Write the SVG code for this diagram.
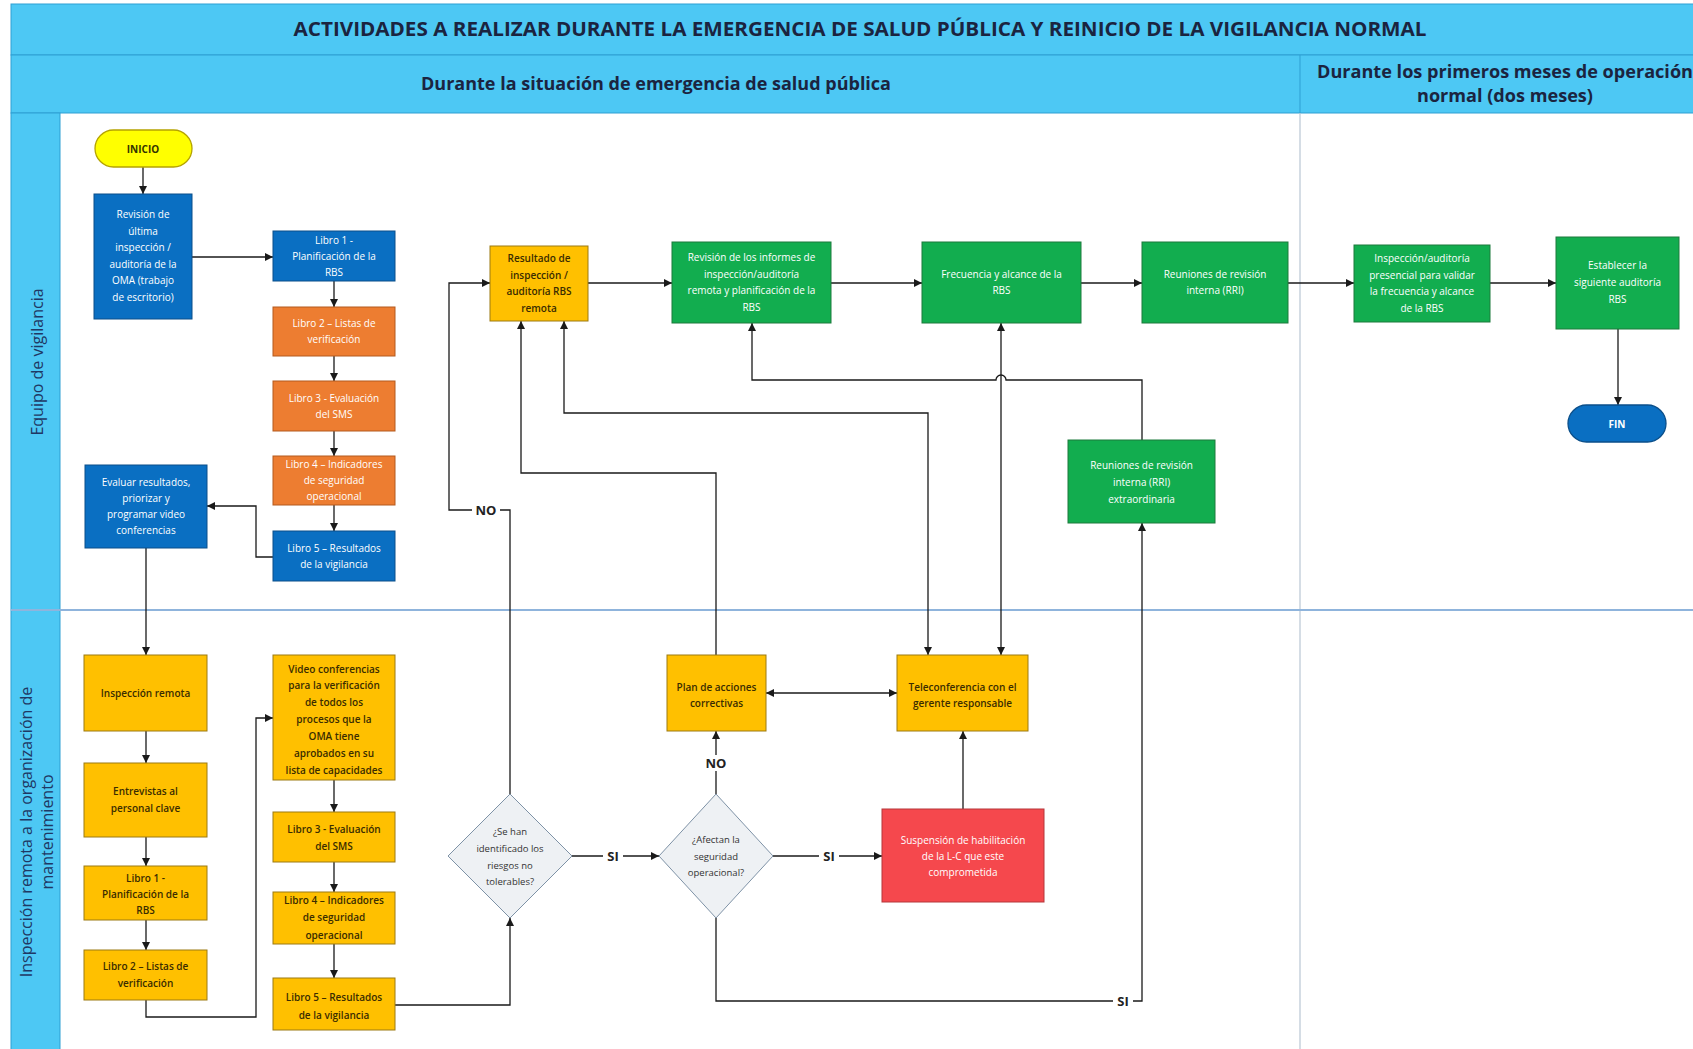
<svg xmlns="http://www.w3.org/2000/svg" width="1693" height="1049" viewBox="0 0 1693 1049">
  <defs>
    <marker id="arrow" viewBox="0 0 8 8" refX="8" refY="4" markerWidth="8" markerHeight="8" markerUnits="userSpaceOnUse" orient="auto-start-reverse">
      <path d="M0,0 L8,4 L0,8 z" fill="#1a1a1a"/>
    </marker>
    <style>
      .band { fill: #4DC8F4; stroke: #2E9FD3; stroke-width: 1; }
      .title { font-family: "Open Sans", "Liberation Sans", sans-serif; font-weight: bold; fill: #1B2440; }
      .lane { font-family: "Open Sans", "Liberation Sans", sans-serif; font-size: 16px; fill: #1F3864; }
      .box { stroke-width: 1; }
      .blue { fill: #0A6FC2; stroke: #0B4F8A; }
      .orange { fill: #ED7D31; stroke: #B35A1E; }
      .gold { fill: #FFC000; stroke: #9C7A12; }
      .green { fill: #12AD4F; stroke: #1C7A3C; }
      .red { fill: #F5484D; stroke: #B5363A; }
      .dia { fill: #EEF1F4; stroke: #7E92A6; stroke-width: 1; }
      .t { font-family: "Open Sans", "Liberation Sans", sans-serif; font-size: 10px; text-anchor: middle; }
      .tw { fill: #FFFFFF; }
      .td { fill: #3A2C00; font-weight: 600; }
      .tg { fill: #333333; font-size: 9.5px; }
      .wire { fill: none; stroke: #1a1a1a; stroke-width: 1.3; }
      .lbl { font-family: "Open Sans", "Liberation Sans", sans-serif; font-size: 13px; font-weight: bold; fill: #222222; text-anchor: middle; }
      .lblbg { fill: #FFFFFF; }
    </style>
  </defs>

  <rect x="0" y="0" width="1693" height="1049" fill="#FFFFFF"/>

  <!-- header bands -->
  <g id="header">
    <rect class="band" x="11" y="4" width="1690" height="51"/>
    <rect class="band" x="11" y="55" width="1690" height="58"/>
    <line x1="1300" y1="55" x2="1300" y2="113" stroke="#2E9FD3" stroke-width="1"/>
    <text class="title" x="860" y="36" font-size="20" text-anchor="middle" textLength="1133" lengthAdjust="spacingAndGlyphs">ACTIVIDADES A REALIZAR DURANTE LA EMERGENCIA DE SALUD PÚBLICA Y REINICIO DE LA VIGILANCIA NORMAL</text>
    <text class="title" x="656" y="90" font-size="17" text-anchor="middle" textLength="470" lengthAdjust="spacingAndGlyphs">Durante la situación de emergencia de salud pública</text>
    <text class="title" x="1505" y="78" font-size="17" text-anchor="middle" textLength="376" lengthAdjust="spacingAndGlyphs">Durante los primeros meses de operación</text>
    <text class="title" x="1505" y="102" font-size="17" text-anchor="middle" textLength="176" lengthAdjust="spacingAndGlyphs">normal (dos meses)</text>
  </g>

  <!-- swimlanes -->
  <g id="lanes">
    <rect class="band" x="11" y="113" width="49" height="940"/>
    <line x1="1300" y1="113" x2="1300" y2="1049" stroke="#B9C6D4" stroke-width="1.2"/>
    <line x1="11" y1="610" x2="1693" y2="610" stroke="#8FB4DC" stroke-width="2"/>
    <text class="lane" transform="translate(43,362) rotate(-90)" text-anchor="middle">Equipo de vigilancia</text>
    <text class="lane" transform="translate(32,832) rotate(-90)" text-anchor="middle" font-size="17">Inspección remota a la organización de</text>
    <text class="lane" transform="translate(53,832) rotate(-90)" text-anchor="middle" font-size="17">mantenimiento</text>
  </g>

  <!-- connectors -->
  <g id="connectors">
    <!-- lane 1 -->
    <path class="wire" d="M143,167 L143,194" marker-end="url(#arrow)"/>
    <path class="wire" d="M192,257 L273,257" marker-end="url(#arrow)"/>
    <path class="wire" d="M334,281 L334,307" marker-end="url(#arrow)"/>
    <path class="wire" d="M334,356 L334,381" marker-end="url(#arrow)"/>
    <path class="wire" d="M334,431 L334,456" marker-end="url(#arrow)"/>
    <path class="wire" d="M334,505 L334,531" marker-end="url(#arrow)"/>
    <path class="wire" d="M273,557 L256,557 L256,506 L207,506" marker-end="url(#arrow)"/>
    <path class="wire" d="M146,548 L146,655" marker-end="url(#arrow)"/>
    <!-- lane 2, left column -->
    <path class="wire" d="M146,731 L146,763" marker-end="url(#arrow)"/>
    <path class="wire" d="M146,837 L146,866" marker-end="url(#arrow)"/>
    <path class="wire" d="M146,920 L146,950" marker-end="url(#arrow)"/>
    <path class="wire" d="M146,1000 L146,1017 L256,1017 L256,718 L273,718" marker-end="url(#arrow)"/>
    <!-- lane 2, right column -->
    <path class="wire" d="M334,780 L334,812" marker-end="url(#arrow)"/>
    <path class="wire" d="M334,862 L334,892" marker-end="url(#arrow)"/>
    <path class="wire" d="M334,944 L334,978" marker-end="url(#arrow)"/>
    <path class="wire" d="M395,1005 L510,1005 L510,918" marker-end="url(#arrow)"/>
    <!-- decisions -->
    <path class="wire" d="M510,794 L510,510 L449,510 L449,283 L490,283" marker-end="url(#arrow)"/>
    <path class="wire" d="M572,856 L659,856" marker-end="url(#arrow)"/>
    <path class="wire" d="M716,794 L716,731" marker-end="url(#arrow)"/>
    <path class="wire" d="M773,856 L882,856" marker-end="url(#arrow)"/>
    <path class="wire" d="M716,918 L716,1001 L1142,1001 L1142,523" marker-end="url(#arrow)"/>
    <path class="wire" d="M963,809 L963,731" marker-end="url(#arrow)"/>
    <path class="wire" d="M766,693 L897,693" marker-start="url(#arrow)" marker-end="url(#arrow)"/>
    <!-- feedback to the top row -->
    <path class="wire" d="M716,655 L716,473 L521,473 L521,321" marker-end="url(#arrow)"/>
    <path class="wire" d="M564,321 L564,413 L928,413 L928,655" marker-start="url(#arrow)" marker-end="url(#arrow)"/>
    <path class="wire" d="M1001,323 L1001,655" marker-start="url(#arrow)" marker-end="url(#arrow)"/>
    <path class="wire" d="M1142,440 L1142,380 L1006,380 A5,5 0 0 0 996,380 L752,380 L752,323" marker-end="url(#arrow)"/>
    <!-- top row -->
    <path class="wire" d="M588,283 L672,283" marker-end="url(#arrow)"/>
    <path class="wire" d="M831,283 L922,283" marker-end="url(#arrow)"/>
    <path class="wire" d="M1081,283 L1142,283" marker-end="url(#arrow)"/>
    <path class="wire" d="M1288,283 L1354,283" marker-end="url(#arrow)"/>
    <path class="wire" d="M1490,283 L1556,283" marker-end="url(#arrow)"/>
    <path class="wire" d="M1618,329 L1618,405" marker-end="url(#arrow)"/>

    <!-- branch labels -->
    <rect class="lblbg" x="472" y="502" width="28" height="16"/>
    <text class="lbl" x="486" y="515">NO</text>
    <rect class="lblbg" x="603" y="848" width="20" height="16"/>
    <text class="lbl" x="613" y="861">SI</text>
    <rect class="lblbg" x="702" y="755" width="28" height="16"/>
    <text class="lbl" x="716" y="768">NO</text>
    <rect class="lblbg" x="819" y="848" width="20" height="16"/>
    <text class="lbl" x="829" y="861">SI</text>
    <rect class="lblbg" x="1113" y="993" width="20" height="16"/>
    <text class="lbl" x="1123" y="1006">SI</text>
  </g>

  <!-- lane 1 nodes -->
  <g id="inicio">
    <rect x="95" y="130" width="97" height="37" rx="18.5" fill="#FFFF00" stroke="#B5A300" stroke-width="1.3"/>
    <text class="t" x="143" y="153" font-size="13" font-weight="bold" fill="#333300">INICIO</text>
  </g>
  <g id="revision-ultima">
    <rect class="box blue" x="94" y="194" width="98" height="125"/>
    <text class="t tw"><tspan x="143" y="218">Revisión de</tspan><tspan x="143" y="235">última</tspan><tspan x="143" y="251">inspección /</tspan><tspan x="143" y="268">auditoría de la</tspan><tspan x="143" y="284">OMA (trabajo</tspan><tspan x="143" y="301">de escritorio)</tspan></text>
  </g>
  <g id="l1-libro1">
    <rect class="box blue" x="273" y="231" width="122" height="50"/>
    <text class="t tw"><tspan x="334" y="243.5">Libro 1 -</tspan><tspan x="334" y="259.5">Planificación de la</tspan><tspan x="334" y="275.5">RBS</tspan></text>
  </g>
  <g id="l1-libro2">
    <rect class="box orange" x="273" y="307" width="122" height="49"/>
    <text class="t tw"><tspan x="334" y="326.5">Libro 2 – Listas de</tspan><tspan x="334" y="342.5">verificación</tspan></text>
  </g>
  <g id="l1-libro3">
    <rect class="box orange" x="273" y="381" width="122" height="50"/>
    <text class="t tw"><tspan x="334" y="401.5">Libro 3 - Evaluación</tspan><tspan x="334" y="417.5">del SMS</tspan></text>
  </g>
  <g id="l1-libro4">
    <rect class="box orange" x="273" y="456" width="122" height="49"/>
    <text class="t tw"><tspan x="334" y="467.5">Libro 4 – Indicadores</tspan><tspan x="334" y="483.5">de seguridad</tspan><tspan x="334" y="499.5">operacional</tspan></text>
  </g>
  <g id="l1-libro5">
    <rect class="box blue" x="273" y="531" width="122" height="50"/>
    <text class="t tw"><tspan x="334" y="551.5">Libro 5 – Resultados</tspan><tspan x="334" y="567.5">de la vigilancia</tspan></text>
  </g>
  <g id="evaluar">
    <rect class="box blue" x="85" y="465" width="122" height="83"/>
    <text class="t tw"><tspan x="146" y="485.5">Evaluar resultados,</tspan><tspan x="146" y="501.5">priorizar y</tspan><tspan x="146" y="517.5">programar video</tspan><tspan x="146" y="533.5">conferencias</tspan></text>
  </g>

  <!-- top row -->
  <g id="resultado">
    <rect class="box gold" x="490" y="246" width="98" height="75"/>
    <text class="t td"><tspan x="539" y="262">Resultado de</tspan><tspan x="539" y="278.5">inspección /</tspan><tspan x="539" y="295">auditoría RBS</tspan><tspan x="539" y="311.5">remota</tspan></text>
  </g>
  <g id="revision-informes">
    <rect class="box green" x="672" y="242" width="159" height="81"/>
    <text class="t tw"><tspan x="751.5" y="261">Revisión de los informes de</tspan><tspan x="751.5" y="277.5">inspección/auditoría</tspan><tspan x="751.5" y="294">remota y planificación de la</tspan><tspan x="751.5" y="310.5">RBS</tspan></text>
  </g>
  <g id="frecuencia">
    <rect class="box green" x="922" y="242" width="159" height="81"/>
    <text class="t tw"><tspan x="1001.5" y="277.5">Frecuencia y alcance de la</tspan><tspan x="1001.5" y="294">RBS</tspan></text>
  </g>
  <g id="rri">
    <rect class="box green" x="1142" y="242" width="146" height="81"/>
    <text class="t tw"><tspan x="1215" y="277.5">Reuniones de revisión</tspan><tspan x="1215" y="294">interna (RRI)</tspan></text>
  </g>
  <g id="presencial">
    <rect class="box green" x="1354" y="245" width="136" height="77"/>
    <text class="t tw"><tspan x="1422" y="262">Inspección/auditoría</tspan><tspan x="1422" y="278.5">presencial para validar</tspan><tspan x="1422" y="295">la frecuencia y alcance</tspan><tspan x="1422" y="311.5">de la RBS</tspan></text>
  </g>
  <g id="establecer">
    <rect class="box green" x="1556" y="237" width="123" height="92"/>
    <text class="t tw"><tspan x="1617.5" y="269">Establecer la</tspan><tspan x="1617.5" y="286">siguiente auditoría</tspan><tspan x="1617.5" y="302.5">RBS</tspan></text>
  </g>
  <g id="fin">
    <rect x="1568" y="405" width="98" height="37" rx="18.5" fill="#0A6FC2" stroke="#0B4F8A" stroke-width="1.3"/>
    <text class="t" x="1617" y="428" font-size="13" font-weight="bold" fill="#FFFFFF">FIN</text>
  </g>
  <g id="rri-extraordinaria">
    <rect class="box green" x="1068" y="440" width="147" height="83"/>
    <text class="t tw"><tspan x="1141.5" y="468.5">Reuniones de revisión</tspan><tspan x="1141.5" y="486">interna (RRI)</tspan><tspan x="1141.5" y="502.5">extraordinaria</tspan></text>
  </g>

  <!-- lane 2 nodes -->
  <g id="inspeccion-remota">
    <rect class="box gold" x="84" y="655" width="123" height="76"/>
    <text class="t td" x="145.5" y="696.5">Inspección remota</text>
  </g>
  <g id="entrevistas">
    <rect class="box gold" x="84" y="763" width="123" height="74"/>
    <text class="t td"><tspan x="145.5" y="794.5">Entrevistas al</tspan><tspan x="145.5" y="812">personal clave</tspan></text>
  </g>
  <g id="l2-libro1">
    <rect class="box gold" x="84" y="866" width="123" height="54"/>
    <text class="t td"><tspan x="145.5" y="881.5">Libro 1 -</tspan><tspan x="145.5" y="897.5">Planificación de la</tspan><tspan x="145.5" y="914">RBS</tspan></text>
  </g>
  <g id="l2-libro2">
    <rect class="box gold" x="84" y="950" width="123" height="50"/>
    <text class="t td"><tspan x="145.5" y="969.5">Libro 2 – Listas de</tspan><tspan x="145.5" y="987">verificación</tspan></text>
  </g>
  <g id="videoconferencias">
    <rect class="box gold" x="273" y="655" width="122" height="125"/>
    <text class="t td"><tspan x="334" y="672.5">Video conferencias</tspan><tspan x="334" y="689.3">para la verificación</tspan><tspan x="334" y="706">de todos los</tspan><tspan x="334" y="723">procesos que la</tspan><tspan x="334" y="740">OMA tiene</tspan><tspan x="334" y="756.5">aprobados en su</tspan><tspan x="334" y="773.5">lista de capacidades</tspan></text>
  </g>
  <g id="l2-libro3">
    <rect class="box gold" x="273" y="812" width="122" height="50"/>
    <text class="t td"><tspan x="334" y="832.5">Libro 3 - Evaluación</tspan><tspan x="334" y="850">del SMS</tspan></text>
  </g>
  <g id="l2-libro4">
    <rect class="box gold" x="273" y="892" width="122" height="52"/>
    <text class="t td"><tspan x="334" y="903.5">Libro 4 – Indicadores</tspan><tspan x="334" y="921">de seguridad</tspan><tspan x="334" y="938.5">operacional</tspan></text>
  </g>
  <g id="l2-libro5">
    <rect class="box gold" x="273" y="978" width="122" height="52"/>
    <text class="t td"><tspan x="334" y="1001">Libro 5 – Resultados</tspan><tspan x="334" y="1018.5">de la vigilancia</tspan></text>
  </g>
  <g id="riesgos">
    <polygon class="dia" points="510,794 572,856 510,918 448,856"/>
    <text class="t tg"><tspan x="510" y="834.5">¿Se han</tspan><tspan x="510" y="852">identificado los</tspan><tspan x="510" y="868.5">riesgos no</tspan><tspan x="510" y="884.5">tolerables?</tspan></text>
  </g>
  <g id="afectan">
    <polygon class="dia" points="716,794 773,856 716,918 659,856"/>
    <text class="t tg"><tspan x="716" y="842.5">¿Afectan la</tspan><tspan x="716" y="859.5">seguridad</tspan><tspan x="716" y="875.5">operacional?</tspan></text>
  </g>
  <g id="plan-acciones">
    <rect class="box gold" x="667" y="655" width="99" height="76"/>
    <text class="t td"><tspan x="716.5" y="690.5">Plan de acciones</tspan><tspan x="716.5" y="706.5">correctivas</tspan></text>
  </g>
  <g id="teleconferencia">
    <rect class="box gold" x="897" y="655" width="131" height="76"/>
    <text class="t td"><tspan x="962.5" y="690.5">Teleconferencia con el</tspan><tspan x="962.5" y="706.5">gerente responsable</tspan></text>
  </g>
  <g id="suspension">
    <rect class="box red" x="882" y="809" width="162" height="93"/>
    <text class="t tw"><tspan x="963" y="843.5">Suspensión de habilitación</tspan><tspan x="963" y="859.5">de la L-C que este</tspan><tspan x="963" y="875.5">comprometida</tspan></text>
  </g>
</svg>
